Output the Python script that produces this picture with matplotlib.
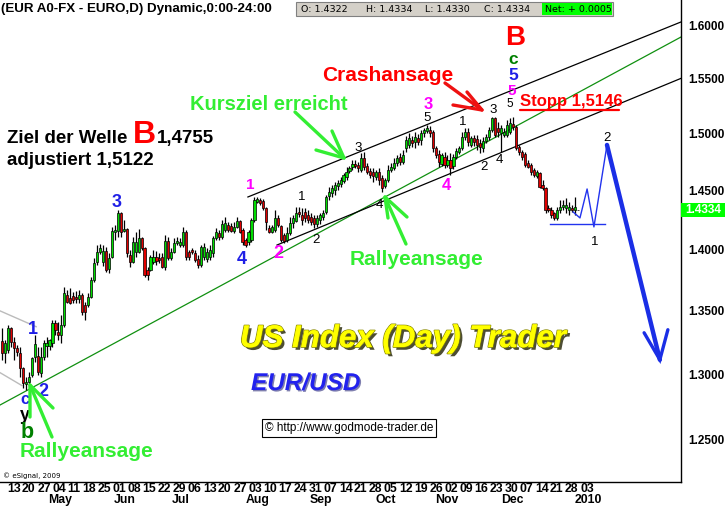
import matplotlib
matplotlib.use("Agg")
import matplotlib.pyplot as plt
import matplotlib.patheffects as pe
from matplotlib.lines import Line2D
from matplotlib.patches import Rectangle
import numpy as np

W, H = 728, 514

# daily EUR/USD candles, Apr - Dec 2009
opens = [
    1.3260, 1.3166, 1.3189, 1.3363, 1.3252, 1.3205, 1.3166, 1.3049, 1.2926, 1.2942, 1.2995, 1.3134,
    1.3142, 1.3011, 1.3134, 1.3220, 1.3220, 1.3244, 1.3402, 1.3331, 1.3307, 1.3386, 1.3627, 1.3600,
    1.3619, 1.3610, 1.3590, 1.3627, 1.3546, 1.3546, 1.3610, 1.3748, 1.3895, 1.3979,
    1.3900, 1.3990, 1.3838, 1.3937, 1.4150, 1.4155, 1.4308, 1.4155, 1.4172, 1.3954, 1.3896, 1.3979,
    1.3979, 1.4096, 1.4012, 1.3830, 1.3830, 1.3896, 1.3937, 1.3930, 1.3937, 1.3855, 1.4071, 1.3929,
    1.3979, 1.4054, 1.4040, 1.4037, 1.4147, 1.3979, 1.3996, 1.3971, 1.3920, 1.3871, 1.3937,
    1.3920, 1.3937, 1.3971, 1.4096, 1.4139, 1.4105, 1.4164, 1.4206, 1.4198, 1.4155, 1.4189, 1.4240,
    1.4164, 1.4079, 1.4062, 1.4079, 1.4248, 1.4401, 1.4418, 1.4410, 1.4350, 1.4181, 1.4147, 1.4164,
    1.4265, 1.4198, 1.4122, 1.4079, 1.4139, 1.4223, 1.4240, 1.4316, 1.4291,
    1.4316, 1.4291, 1.4274, 1.4265, 1.4214, 1.4248, 1.4274, 1.4316, 1.4452, 1.4478, 1.4504, 1.4539,
    1.4556, 1.4582, 1.4617, 1.4669, 1.4704, 1.4730, 1.4721, 1.4678, 1.4783, 1.4713, 1.4669, 1.4661,
    1.4617, 1.4661, 1.4609, 1.4539, 1.4591, 1.4678, 1.4695, 1.4739, 1.4792, 1.4748,
    1.4871, 1.4898, 1.4942, 1.4924, 1.4960, 1.4942, 1.5005, 1.5023, 1.5032, 1.5014, 1.4871, 1.4818,
    1.4730, 1.4792, 1.4721, 1.4765, 1.4713, 1.4792, 1.4836, 1.4871, 1.4969, 1.5014, 1.4898, 1.4960,
    1.4951, 1.4915, 1.4871, 1.4933, 1.4969, 1.5032, 1.5139, 1.5050, 1.5005,
    1.4987, 1.4987, 1.5014, 1.5085, 1.5059, 1.4880, 1.4836, 1.4818, 1.4739, 1.4721, 1.4678, 1.4626,
    1.4652, 1.4548, 1.4522, 1.4350, 1.4333, 1.4308, 1.4265, 1.4333, 1.4359, 1.4350, 1.4333, 1.4350,
    1.4333, 1.4330,
]
highs = [
    1.3363, 1.3268, 1.3386, 1.3371, 1.3292, 1.3228, 1.3213, 1.3057, 1.2980, 1.3019, 1.3134, 1.3307,
    1.3213, 1.3213, 1.3268, 1.3292, 1.3275, 1.3426, 1.3426, 1.3410, 1.3466, 1.3691, 1.3667, 1.3680,
    1.3651, 1.3660, 1.3667, 1.3643, 1.3570, 1.3643, 1.3772, 1.3929, 1.4037, 1.4045,
    1.4037, 1.4020, 1.3970, 1.4189, 1.4206, 1.4333, 1.4316, 1.4248, 1.4181, 1.3996, 1.4105, 1.4147,
    1.4172, 1.4105, 1.4021, 1.3855, 1.3954, 1.3996, 1.3987, 1.3971, 1.3971, 1.4121, 1.4105, 1.4012,
    1.4096, 1.4105, 1.4096, 1.4189, 1.4164, 1.3996, 1.4012, 1.3996, 1.3954, 1.4037, 1.4054,
    1.4012, 1.4037, 1.4113, 1.4181, 1.4164, 1.4248, 1.4274, 1.4231, 1.4223, 1.4231, 1.4274, 1.4248,
    1.4181, 1.4096, 1.4164, 1.4265, 1.4444, 1.4444, 1.4435, 1.4427, 1.4359, 1.4206, 1.4206, 1.4333,
    1.4291, 1.4206, 1.4139, 1.4189, 1.4274, 1.4291, 1.4359, 1.4359, 1.4350,
    1.4350, 1.4333, 1.4308, 1.4291, 1.4291, 1.4308, 1.4333, 1.4461, 1.4530, 1.4548, 1.4574, 1.4591,
    1.4617, 1.4652, 1.4704, 1.4713, 1.4765, 1.4765, 1.4748, 1.4827, 1.4836, 1.4739, 1.4695, 1.4695,
    1.4678, 1.4695, 1.4635, 1.4609, 1.4721, 1.4739, 1.4783, 1.4809, 1.4827, 1.4853,
    1.4978, 1.5005, 1.4978, 1.5014, 1.4996, 1.5032, 1.5050, 1.5077, 1.5068, 1.5032, 1.4889, 1.4853,
    1.4827, 1.4836, 1.4809, 1.4827, 1.4818, 1.4871, 1.4889, 1.5014, 1.5050, 1.5050, 1.4978, 1.4987,
    1.4987, 1.4951, 1.4969, 1.4996, 1.5059, 1.5148, 1.5148, 1.5103, 1.5077,
    1.5050, 1.5121, 1.5139, 1.5148, 1.5077, 1.4898, 1.4853, 1.4836, 1.4765, 1.4739, 1.4695, 1.4678,
    1.4661, 1.4591, 1.4530, 1.4376, 1.4359, 1.4316, 1.4359, 1.4418, 1.4418, 1.4435, 1.4401, 1.4376,
    1.4444, 1.4334,
]
lows = [
    1.3111, 1.3088, 1.3166, 1.3213, 1.3111, 1.3142, 1.2980, 1.2895, 1.2880, 1.2918, 1.2980, 1.3095,
    1.2995, 1.2980, 1.3111, 1.3134, 1.3189, 1.3213, 1.3307, 1.3268, 1.3244, 1.3371, 1.3562, 1.3550,
    1.3562, 1.3565, 1.3562, 1.3466, 1.3426, 1.3530, 1.3602, 1.3732, 1.3871, 1.3962,
    1.3860, 1.3813, 1.3805, 1.3929, 1.4079, 1.4105, 1.4105, 1.4147, 1.3937, 1.3855, 1.3887, 1.3937,
    1.3971, 1.3996, 1.3772, 1.3748, 1.3820, 1.3880, 1.3871, 1.3887, 1.3846, 1.3830, 1.3912, 1.3912,
    1.3971, 1.4037, 1.4021, 1.4021, 1.3912, 1.3912, 1.3962, 1.3896, 1.3846, 1.3855, 1.3912,
    1.3896, 1.3912, 1.3937, 1.4079, 1.4079, 1.4088, 1.4147, 1.4147, 1.4147, 1.4139, 1.4181, 1.4139,
    1.4037, 1.4021, 1.4037, 1.4062, 1.4231, 1.4393, 1.4376, 1.4333, 1.4164, 1.4139, 1.4139, 1.4147,
    1.4189, 1.4062, 1.4054, 1.4062, 1.4122, 1.4181, 1.4231, 1.4274, 1.4206,
    1.4231, 1.4223, 1.4206, 1.4181, 1.4189, 1.4214, 1.4248, 1.4299, 1.4418, 1.4444, 1.4461, 1.4504,
    1.4530, 1.4565, 1.4591, 1.4652, 1.4678, 1.4695, 1.4661, 1.4661, 1.4678, 1.4643, 1.4609, 1.4574,
    1.4591, 1.4548, 1.4487, 1.4522, 1.4574, 1.4661, 1.4678, 1.4713, 1.4721, 1.4730,
    1.4836, 1.4871, 1.4880, 1.4871, 1.4898, 1.4898, 1.4969, 1.5005, 1.4969, 1.4836, 1.4783, 1.4704,
    1.4713, 1.4695, 1.4704, 1.4635, 1.4686, 1.4774, 1.4818, 1.4853, 1.4942, 1.4889, 1.4880, 1.4889,
    1.4853, 1.4827, 1.4836, 1.4915, 1.4942, 1.5014, 1.4969, 1.4969, 1.4836,
    1.4969, 1.4969, 1.4996, 1.5032, 1.4853, 1.4809, 1.4765, 1.4704, 1.4695, 1.4635, 1.4617, 1.4609,
    1.4522, 1.4504, 1.4308, 1.4316, 1.4265, 1.4248, 1.4248, 1.4308, 1.4333, 1.4308, 1.4291, 1.4316,
    1.4291, 1.4330,
]
closes = [
    1.3166, 1.3244, 1.3363, 1.3252, 1.3205, 1.3173, 1.3049, 1.2934, 1.2942, 1.2980, 1.3127, 1.3236,
    1.3019, 1.3134, 1.3244, 1.3244, 1.3268, 1.3402, 1.3347, 1.3307, 1.3386, 1.3643, 1.3570, 1.3565,
    1.3586, 1.3590, 1.3627, 1.3490, 1.3490, 1.3610, 1.3748, 1.3887, 1.3979, 1.4012,
    1.3990, 1.3830, 1.3929, 1.4155, 1.4160, 1.4308, 1.4147, 1.4172, 1.3971, 1.3896, 1.4062, 1.4062,
    1.4096, 1.4012, 1.3789, 1.3789, 1.3937, 1.3937, 1.3904, 1.3910, 1.3855, 1.4071, 1.3929, 1.3979,
    1.4054, 1.4071, 1.4065, 1.4147, 1.3937, 1.3940, 1.3975, 1.3912, 1.3871, 1.4021, 1.4021,
    1.3979, 1.3996, 1.4096, 1.4147, 1.4105, 1.4214, 1.4223, 1.4164, 1.4155, 1.4189, 1.4240, 1.4147,
    1.4062, 1.4037, 1.4147, 1.4248, 1.4418, 1.4427, 1.4393, 1.4350, 1.4231, 1.4147, 1.4189, 1.4265,
    1.4206, 1.4079, 1.4071, 1.4139, 1.4223, 1.4265, 1.4308, 1.4299, 1.4248,
    1.4265, 1.4248, 1.4231, 1.4214, 1.4265, 1.4291, 1.4308, 1.4444, 1.4487, 1.4522, 1.4548, 1.4565,
    1.4591, 1.4635, 1.4661, 1.4695, 1.4730, 1.4713, 1.4695, 1.4783, 1.4704, 1.4661, 1.4635, 1.4626,
    1.4661, 1.4591, 1.4522, 1.4591, 1.4678, 1.4704, 1.4739, 1.4783, 1.4748, 1.4809,
    1.4942, 1.4960, 1.4915, 1.4969, 1.4924, 1.5005, 1.5032, 1.5050, 1.5005, 1.4871, 1.4809, 1.4748,
    1.4809, 1.4721, 1.4765, 1.4695, 1.4792, 1.4844, 1.4871, 1.4969, 1.5014, 1.4924, 1.4960, 1.4924,
    1.4898, 1.4880, 1.4933, 1.4969, 1.5032, 1.5139, 1.4987, 1.5014, 1.5050,
    1.5014, 1.5077, 1.5094, 1.5059, 1.4871, 1.4836, 1.4792, 1.4721, 1.4704, 1.4661, 1.4635, 1.4661,
    1.4530, 1.4522, 1.4333, 1.4333, 1.4291, 1.4265, 1.4333, 1.4359, 1.4376, 1.4376, 1.4359, 1.4333,
    1.4359, 1.4334,
]

# trend lines / channels: (bar index, price)
green_line = ([-0.7, 228.6], [1.2762, 1.5886])
upper_line = ([82.8, 228.6], [1.4444, 1.6029])
lower_line = ([92.6, 228.6], [1.4037, 1.5500])
gray_lines = [([-0.7, 11.5], [1.3498, 1.3371]), ([-0.7, 6.7], [1.3011, 1.2911])]
# projected path
proj_x = [192.3, 194.6, 197.0, 199.3, 203.7]
proj_y = [1.4316, 1.4265, 1.4513, 1.4189, 1.4898]
support_x = [184.5, 203.0]
support_y = [1.4214, 1.4214]
crash_x = [203.7, 221.5]
crash_y = [1.4898, 1.3111]
crash_head = ([216.2, 221.5, 224.2], [1.3323, 1.3111, 1.3347])

yticks = [1.25, 1.30, 1.35, 1.40, 1.45, 1.50, 1.55, 1.60]
day_labels = ["13", "20", "27", "04", "11", "18", "25", "01", "08", "15", "22", "29", "06", "13",
              "20", "27", "03", "10", "17", "24", "31", "07", "14", "21", "28", "05", "12", "19",
              "26", "02", "09", "16", "23", "30", "07", "14", "21", "28", "03"]
months = ["May", "Jun", "Jul", "Aug", "Sep", "Oct", "Nov", "Dec", "2010"]
month_px = [60, 125, 181, 258, 321, 386, 447, 512, 588]

plt.rcParams["font.family"] = ["Liberation Sans", "DejaVu Sans"]

GREEN = "#33ee33"
BLUE = "#1f1fe6"
MAG = "#ff00ff"
DKGREEN = "#008000"

fig = plt.figure(figsize=(W / 100, H / 100), dpi=100)
fig.patch.set_facecolor("white")
ax = fig.add_axes([0, 32 / H, 681 / W, 482 / H])

o = np.array(opens)
h = np.array(highs)
l = np.array(lows)
c = np.array(closes)
x = np.arange(len(c))
up = c >= o
body_lo = np.minimum(o, c)
body_h = np.maximum(np.abs(c - o), 0.0003)
ax.vlines(x, l, h, color="black", lw=0.9, zorder=3)
ax.bar(x, body_h, bottom=body_lo, width=0.72, color=np.where(up, "#00dd00", "#e00000"),
       edgecolor="black", linewidth=0.5, zorder=4)

ax.set_yscale("log")
ax.set_ylim(1.2191, 1.6240)
ax.set_xlim(-0.673, 228.62)

# lines
ax.plot(*green_line, color="#109010", lw=0.9, zorder=2)
ax.plot(*upper_line, color="black", lw=0.9, zorder=2)
ax.plot(*lower_line, color="black", lw=0.9, zorder=2)
for gx, gy in gray_lines:
    ax.plot(gx, gy, color="#bbbbbb", lw=1.0, zorder=2)
ax.plot(proj_x, proj_y, color="#2233ee", lw=1.0, zorder=5)
ax.plot(support_x, support_y, color="#2233ee", lw=1.0, zorder=5)
ax.plot(crash_x, crash_y, color="#1a2ee6", lw=3.2, zorder=5, solid_capstyle="round")
ax.plot(*crash_head, color="#1a2ee6", lw=2.4, zorder=5, solid_capstyle="round",
        solid_joinstyle="miter")

# axes look
for side in ["left", "top"]:
    ax.spines[side].set_visible(False)
ax.spines["right"].set_linewidth(1.0)
ax.spines["bottom"].set_linewidth(1.0)
ax.yaxis.tick_right()
ax.set_yticks(yticks)
ax.set_yticklabels(["%.4f" % v for v in yticks])
ax.yaxis.set_minor_locator(matplotlib.ticker.NullLocator())
ax.tick_params(axis="y", length=0, pad=5, labelsize=8.5)
for t in ax.get_yticklabels():
    t.set_fontweight("bold")
ax.set_xticks([])


def pt(px, py, s, **kw):
    kw.setdefault("va", "center")
    kw.setdefault("ha", "left")
    return fig.text(px / W, 1 - py / H, s, **kw)


def seg(pts, color, lw):
    xs = [p[0] / W for p in pts]
    ys = [1 - p[1] / H for p in pts]
    fig.add_artist(Line2D(xs, ys, color=color, lw=lw, solid_capstyle="round",
                          transform=fig.transFigure, zorder=6))


# date labels
for k, d in enumerate(day_labels):
    pt(7 + 15.08 * k, 489, d, weight="bold", size=8.8)
for m, mx in zip(months, month_px):
    pt(mx, 500, m, weight="bold", size=8.8, ha="center")

# header
pt(1, 9, "(EUR A0-FX - EURO,D) Dynamic,0:00-24:00", weight="bold", size=9.6)
fig.add_artist(Rectangle((296 / W, 1 - 16 / H), 317 / W, 14 / H, transform=fig.transFigure,
                         facecolor="#d4d0c8", edgecolor="#808080", lw=0.8))
fig.add_artist(Rectangle((542 / W, 1 - 15 / H), 70 / W, 12 / H, transform=fig.transFigure,
                         facecolor="#00ff00", edgecolor="none"))
for tx, s in [(301, "O: 1.4322"), (366, "H: 1.4334"), (425, "L: 1.4330"), (484, "C: 1.4334"),
              (545, "Net: + 0.0005")]:
    pt(tx, 9, s, size=6.8, family="DejaVu Sans")

# last price badge
fig.add_artist(Rectangle((681 / W, 1 - 217 / H), 44 / W, 14 / H, transform=fig.transFigure,
                         facecolor="#00ff00", edgecolor="none"))
pt(703, 210, "1.4334", color="white", weight="bold", size=8.5, ha="center")

# commentary
pt(7, 143, "Ziel der Welle", weight="bold", size=13.5, va="baseline")
pt(133, 143, "B", color="#ff0000", weight="bold", size=23, va="baseline")
pt(157, 143, "1,4755", weight="bold", size=13.5, va="baseline")
pt(7, 165, "adjustiert 1,5122", weight="bold", size=13.5, va="baseline")
pt(190, 110, "Kursziel erreicht", color=GREEN, weight="bold", size=14.5, va="baseline")
pt(322, 81, "Crashansage", color="#ff0000", weight="bold", size=15, va="baseline")
pt(520, 106, "Stopp 1,5146", color="#ff0000", weight="bold", size=12, va="baseline")
seg([(520, 110), (619, 110)], "#ff0000", 1.6)
pt(350, 265, "Rallyeansage", color=GREEN, weight="bold", size=15, va="baseline")
pt(20, 457, "Rallyeansage", color=GREEN, weight="bold", size=15, va="baseline")

pt(240, 347, "US Index (Day) Trader", color="#ffff00", weight="bold", style="italic", size=22.5,
   va="baseline",
   path_effects=[pe.SimplePatchShadow(offset=(2, -2), shadow_rgbFace="#202000", alpha=0.8),
                 pe.withStroke(linewidth=1.2, foreground="#8a8a00"), pe.Normal()])
pt(251, 390, "EUR/USD", color="#2222ee", weight="bold", style="italic", size=17.5, va="baseline",
   path_effects=[pe.SimplePatchShadow(offset=(1, -1), shadow_rgbFace="#000060", alpha=0.5),
                 pe.Normal()])
pt(349, 428, "\u00a9 http://www.godmode-trader.de", size=8.5, ha="center",
   bbox=dict(boxstyle="square,pad=0.25", facecolor="white", edgecolor="black", lw=0.8))
pt(3, 476, "\u00a9 eSignal, 2009", size=5, family="DejaVu Sans")

# arrows
seg([(295, 112), (344, 158)], GREEN, 2.4)
seg([(316, 150), (344, 158), (332, 131)], GREEN, 2.4)
seg([(445, 83), (482, 110)], "#ee1111", 2.4)
seg([(453, 105), (482, 110), (467, 92)], "#ee1111", 2.4)
seg([(385, 197), (406, 244)], GREEN, 2.4)
seg([(388, 218), (385, 197), (407, 217)], GREEN, 2.4)
seg([(30, 385), (52, 437)], GREEN, 2.4)
seg([(30, 417), (30, 385), (53, 408)], GREEN, 2.4)

# wave counts
big = dict(weight="bold", ha="center")
for px, py, s, col, sz in [
    (33, 330, "1", BLUE, 13), (43, 392, "2", BLUE, 13), (25, 399, "c", BLUE, 12),
    (25, 416, "y", "black", 13), (27, 433, "b", DKGREEN, 15.5), (117, 203, "3", BLUE, 13),
    (242, 260, "4", BLUE, 13), (250, 185, "1", MAG, 11), (278, 254, "2", MAG, 13),
    (428, 105, "3", MAG, 12), (446, 185, "4", MAG, 12), (512, 91, "5", MAG, 11),
    (513, 76, "5", BLUE, 12.5), (513, 60, "c", DKGREEN, 12.5), (515, 38, "B", "#ff0000", 20),
]:
    pt(px, py, s, color=col, size=sz, **big)

for px, py, s, sz in [
    (302, 197, "1", 9.5), (316, 240, "2", 9.5), (358, 148, "3", 9.5), (379, 205, "4", 9.5),
    (427, 118, "5", 9.5), (463, 122, "1", 9.5), (484, 167, "2", 9.5), (493, 110, "3", 9.5),
    (499, 160, "4", 9.5), (510, 104, "5", 8.5), (607, 138, "2", 9.5), (595, 242, "1", 9.5),
]:
    pt(px, py, s, color="black", size=sz, ha="center")

fig.savefig("out.png", dpi=100)
